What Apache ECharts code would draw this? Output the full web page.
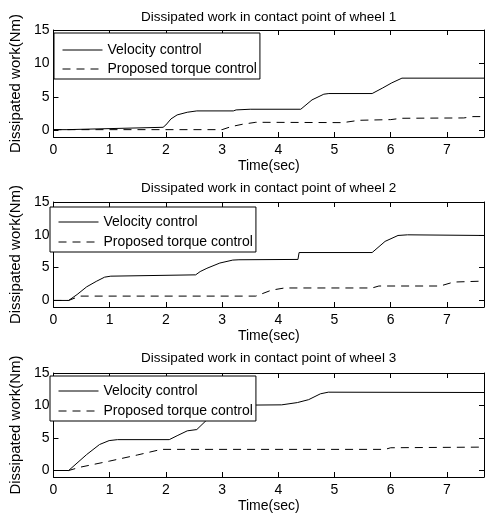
<!DOCTYPE html>
<html>
<head>
<meta charset="utf-8">
<script src="https://cdn.jsdelivr.net/npm/echarts@6/dist/echarts.min.js"></script>
<style>
html,body{margin:0;padding:0;background:#fff;}
#chart{width:487px;height:514px;}
</style>
</head>
<body>
<div id="chart"></div>
<script>
// ---- data ----
var titles = ['Dissipated work in contact point of wheel 1',
              'Dissipated work in contact point of wheel 2',
              'Dissipated work in contact point of wheel 3'];
var seriesNames = ['Velocity control', 'Proposed torque control'];
var xTicks = [0, 1, 2, 3, 4, 5, 6, 7];
var yTicks = [0, 5, 10, 15];

var w1VelT = [0, 0.24, 0.26, 1.95, 2.0, 2.09, 2.2, 2.38, 2.55, 3.2, 3.25, 3.5, 4.4, 4.6, 4.81, 4.9, 5.67, 5.85, 6.02, 6.2, 7.66];
var w1VelY = [0.1, 0.1, 0.35, 0.45, 0.8, 1.7, 2.3, 2.7, 2.9, 2.9, 3.05, 3.15, 3.15, 4.55, 5.4, 5.5, 5.5, 6.3, 7.1, 7.8, 7.8];
var w1TorT = [0, 3.0, 3.16, 3.36, 3.6, 5.15, 5.44, 6.0, 6.19, 7.3, 7.46, 7.66];
var w1TorY = [0.1, 0.1, 0.55, 0.9, 1.2, 1.15, 1.5, 1.6, 1.8, 1.85, 2.05, 2.05];

var w2VelT = [0, 0.27, 0.42, 0.59, 0.76, 0.91, 1.02, 2.53, 2.61, 2.73, 2.96, 3.19, 3.3, 4.35, 4.37, 5.67, 5.9, 6.13, 6.3, 7.66];
var w2VelY = [0, 0, 0.9, 2.07, 2.9, 3.55, 3.7, 3.9, 4.4, 4.9, 5.7, 6.15, 6.2, 6.25, 7.3, 7.3, 9.0, 9.9, 10.0, 9.9];
var w2TorT = [0, 0.27, 0.47, 3.6, 3.88, 4.11, 5.67, 5.79, 6.88, 7.12, 7.66];
var w2TorY = [0, 0, 0.66, 0.66, 1.57, 1.9, 1.9, 2.2, 2.2, 2.8, 2.95];

var w3VelT = [0, 0.27, 0.59, 0.82, 0.99, 1.14, 2.06, 2.2, 2.38, 2.55, 2.73, 2.9, 3.1, 3.3, 4.06, 4.34, 4.54, 4.75, 4.89, 7.66];
var w3VelY = [0, 0, 2.45, 4.0, 4.6, 4.75, 4.75, 5.35, 6.1, 6.3, 7.8, 8.9, 9.7, 10.05, 10.1, 10.45, 10.9, 11.8, 12.05, 12.0];
var w3TorT = [0, 0.27, 0.47, 1.0, 1.5, 1.92, 5.9, 6.0, 7.66];
var w3TorY = [0, 0, 0.5, 1.45, 2.4, 3.25, 3.25, 3.5, 3.6];

var xMin = 0, xMax = 7.66, yMin = -1, yMax = 15;

// ---- layout ----
var FONT = 'Liberation Sans, Arial, sans-serif';
var grids = [
  {left: 46, top: 30, height: 107},
  {left: 46, top: 202, height: 105},
  {left: 46, top: 373, height: 105}
];
var titleTops = [10, 181, 351];
var legends = [
  {left: 54, top: 33, padding: [10, 3, 3, 8], itemGap: 5},
  {left: 50, top: 207, padding: [8, 3, 3, 8], itemGap: 6},
  {left: 50, top: 376, padding: [8, 3, 3, 8], itemGap: 6}
];

function zip(t, y) { return t.map(function (v, i) { return [v, y[i]]; }); }
var data = [
  [zip(w1VelT, w1VelY), zip(w1TorT, w1TorY)],
  [zip(w2VelT, w2VelY), zip(w2TorT, w2TorY)],
  [zip(w3VelT, w3VelY), zip(w3TorT, w3TorY)]
];

var axisLine = {show: true, onZero: false, lineStyle: {color: '#000', width: 1}};
var tick = {show: true, inside: true, length: 5, lineStyle: {color: '#000'}};
var option = {
  backgroundColor: '#fff',
  animation: false,
  textStyle: {fontFamily: FONT},
  title: [], grid: [], xAxis: [], yAxis: [], legend: [], series: []
};

for (var i = 0; i < 3; i++) {
  option.title.push({
    text: titles[i], left: 141, top: titleTops[i], padding: 0,
    textStyle: {fontFamily: FONT, fontSize: 13.5, fontWeight: 'normal', color: '#000'}
  });
  option.grid.push({left: grids[i].left, top: grids[i].top, height: grids[i].height, right: -1});
  option.xAxis.push({
    type: 'value', gridIndex: i, position: 'bottom', min: xMin, max: xMax, interval: 1,
    name: 'Time(sec)', nameLocation: 'middle', nameGap: 22,
    nameTextStyle: {fontFamily: FONT, fontSize: 14, color: '#000'},
    axisLine: axisLine, axisTick: tick,
    axisLabel: {color: '#000', fontFamily: FONT, fontSize: 14, margin: 6,
      formatter: function (v) { return xTicks.indexOf(v) >= 0 ? String(v) : ''; }},
    splitLine: {show: false}
  });
  option.xAxis.push({
    type: 'value', gridIndex: i, position: 'top', min: xMin, max: xMax, interval: 1,
    axisLine: axisLine, axisTick: tick,
    axisLabel: {show: false}, splitLine: {show: false}
  });
  option.yAxis.push({
    type: 'value', gridIndex: i, position: 'left', min: yMin, max: yMax,
    name: 'Dissipated work(Nm)', nameLocation: 'middle', nameGap: 28,
    nameTextStyle: {fontFamily: FONT, fontSize: 15, color: '#000', padding: [0, 0, 0, 0]},
    axisLine: axisLine,
    axisTick: {show: true, inside: true, length: 5, lineStyle: {color: '#000'}, customValues: yTicks},
    axisLabel: {color: '#000', fontFamily: FONT, fontSize: 14, margin: 4, customValues: yTicks},
    splitLine: {show: false}
  });
  option.yAxis.push({
    type: 'value', gridIndex: i, position: 'right', min: yMin, max: yMax,
    axisLine: axisLine,
    axisTick: {show: true, inside: true, length: 5, lineStyle: {color: '#000'}, customValues: yTicks},
    axisLabel: {show: false}, splitLine: {show: false}
  });
  option.legend.push({
    orient: 'vertical', left: legends[i].left, top: legends[i].top,
    padding: legends[i].padding, itemGap: legends[i].itemGap,
    itemWidth: 40, itemHeight: 14, borderColor: '#000', borderWidth: 1, borderRadius: 0,
    backgroundColor: '#fff', z: 10,
    data: seriesNames,
    selectedMode: false,
    itemStyle: {opacity: 0},
    lineStyle: {width: 1, color: '#000'},
    textStyle: {fontFamily: FONT, fontSize: 14, color: '#000'}
  });
  for (var s = 0; s < 2; s++) {
    option.series.push({
      name: seriesNames[s], type: 'line', xAxisIndex: 2 * i, yAxisIndex: 2 * i,
      data: data[i][s], showSymbol: false, symbol: 'none', smooth: false,
      lineStyle: {color: '#000', width: 1, type: s === 0 ? 'solid' : [8, 6]},
      itemStyle: {color: '#000'}, z: 2
    });
  }
}

var chart = echarts.init(document.getElementById('chart'), null, {renderer: 'canvas'});
chart.setOption(option);
</script>
</body>
</html>
